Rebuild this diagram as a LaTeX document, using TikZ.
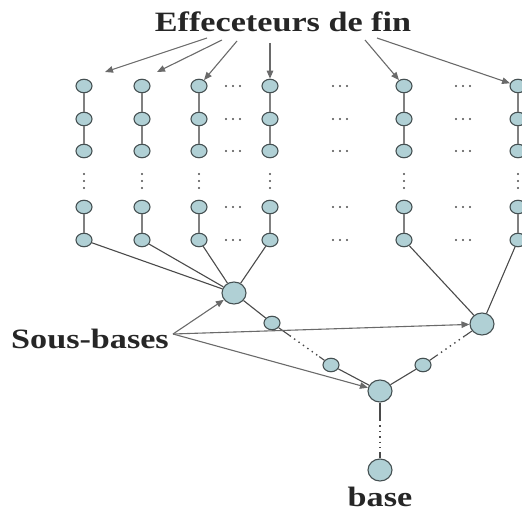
\documentclass[tikz,border=0pt]{standalone}
\usepackage{fontspec}
\usepackage{graphicx}
\setmainfont{Liberation Serif}
\usetikzlibrary{shapes.geometric,arrows.meta,calc}
\definecolor{nodefill}{HTML}{B0D0D5}
\definecolor{nodeline}{HTML}{455052}
\definecolor{arrgray}{HTML}{6A6A6A}
\definecolor{linegray}{HTML}{4A4A4A}
\newcommand{\wide}[1]{\scalebox{1.22}[1]{#1}}
\tikzset{
  small/.style={ellipse,draw=nodeline,fill=nodefill,line width=1.1pt,minimum width=16pt,minimum height=13.5pt,inner sep=0pt},
  big/.style={ellipse,draw=nodeline,fill=nodefill,line width=1.1pt,minimum width=24pt,minimum height=22pt,inner sep=0pt},
  label/.style={font=\bfseries\fontsize{28}{30}\selectfont,text=black!85,inner sep=0pt,anchor=base},
  pointer/.style={draw=arrgray,line width=1.1pt,-{Triangle[length=8pt,width=6.5pt]}},
  colline/.style={draw=gray,line width=2pt},
  link/.style={draw=linegray,line width=1.1pt},
  dotlink/.style={draw=linegray,line width=1.4pt,dash pattern=on 1.4pt off 4pt},
  dotfill/.style={fill=black!70}
}
\begin{document}
\begin{tikzpicture}[x=1pt,y=-1pt]
\useasboundingbox (0,0) rectangle (522,511);
% title
\node[label] (title) at (283,32) {\wide{Effeceteurs de fin}};
% columns
\foreach \c/\x in {1/84,2/142,3/199,4/270,5/404,6/518}{
  \foreach \r/\y in {1/86,2/119,3/151,4/207,5/240}{
    \node[small] (c\c r\r) at (\x,\y) {};
  }
  \draw[colline] (c\c r1) -- (c\c r2);
  \draw[colline] (c\c r2) -- (c\c r3);
  \draw[colline] (c\c r4) -- (c\c r5);
  \foreach \d in {174,181,188}{
    \fill[dotfill] (\x,\d) circle (1.2pt);
  }
}
% horizontal dots
\foreach \x in {233,340,463}{
  \foreach \y in {86,119,151,207,240}{
    \foreach \dx in {-7,0,7}{
      \fill[dotfill] (\x+\dx,\y) circle (1.2pt);
    }
  }
}
% sub-bases
\node[big] (sb1) at (234,293) {};
\node[big] (sb2) at (482,324) {};
\node[big] (sb3) at (380,391) {};
\node[big] (base) at (380,470) {};
\node[small] (m1) at (272,323) {};
\node[small] (m2) at (331,365) {};
\node[small] (m3) at (423,365) {};
\foreach \c in {1,2,3,4}{ \draw[link] (c\c r5) -- (sb1); }
\foreach \c in {5,6}{ \draw[link] (c\c r5) -- (sb2); }
\draw[link] (sb1) -- (m1);
\coordinate (p1) at ($(m1)!0.3!(m2)$);
\coordinate (p2) at ($(m1)!0.8!(m2)$);
\draw[link] (m1) -- (p1);
\draw[dotlink] (p1) -- (p2);
\draw[link] (p2) -- (m2);
\coordinate (q1) at ($(sb2)!0.3!(m3)$);
\coordinate (q2) at ($(sb2)!0.75!(m3)$);
\draw[link] (sb2) -- (q1);
\draw[dotlink] (q1) -- (q2);
\draw[link] (q2) -- (m3);
\draw[link] (m2) -- (sb3);
\draw[link] (m3) -- (sb3);
\coordinate (r1) at (380,420);
\coordinate (r2) at (380,452);
\draw[link] (sb3) -- (r1);
\draw[dotlink] (r1) -- (r2);
\draw[link] (r2) -- (base);
% labels
\node[label] (sous) at (90,348) {\wide{Sous-bases}};
\node[label] (basetxt) at (380,506) {\wide{base}};
% title arrows
\coordinate (t1) at (207,38);
\coordinate (t2) at (222,40);
\coordinate (t3) at (237,41);
\coordinate (t4) at (270,43);
\coordinate (t5) at (365,40);
\coordinate (t6) at (377,38);
\coordinate (e1) at (105,72);
\coordinate (e2) at (157,72);
\draw[pointer] (t1) -- (e1);
\draw[pointer] (t2) -- (e2);
\draw[pointer] (t3) -- (c3r1);
\draw[pointer] (t4) -- (c4r1);
\draw[pointer] (t5) -- (c5r1);
\draw[pointer] (t6) -- (c6r1);
% sous-bases arrows
\coordinate (s0) at (173,334);
\draw[pointer] (s0) -- (sb1);
\draw[pointer] (s0) -- (sb2);
\draw[pointer] (s0) -- (sb3);
\end{tikzpicture}
\end{document}
